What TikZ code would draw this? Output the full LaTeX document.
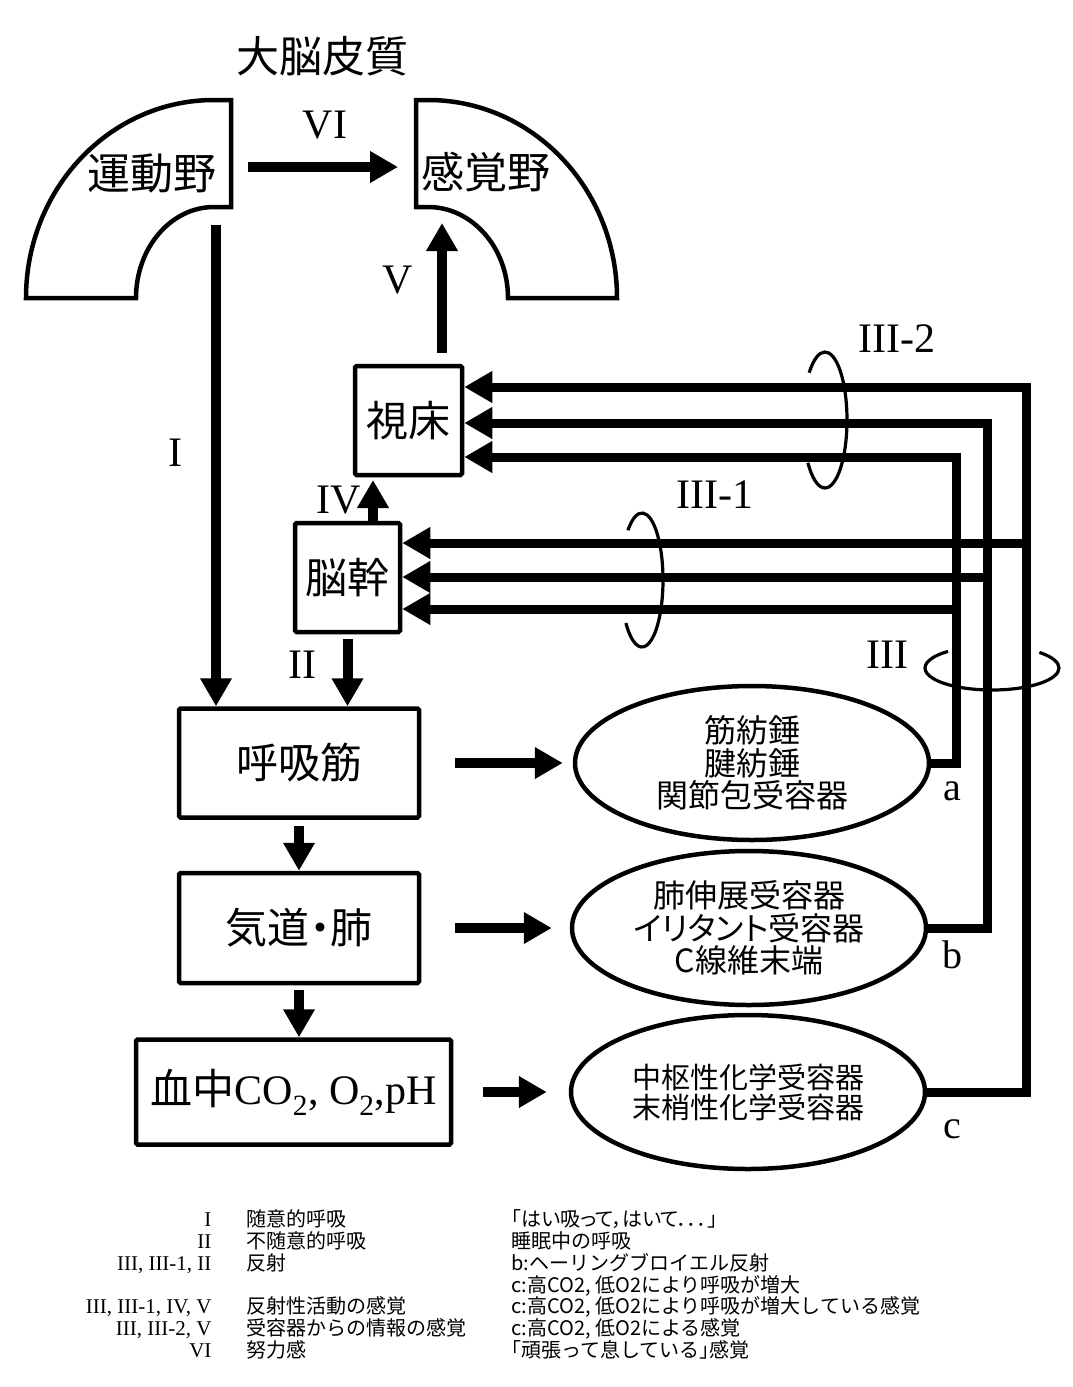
\documentclass[tikz,border=0pt]{standalone}
\usepackage{fontspec}
\setmainfont{Liberation Serif}
\newfontfamily\jp{Noto Sans CJK JP}
\usetikzlibrary{arrows.meta,shapes.geometric}

\begin{document}
\begin{tikzpicture}[x=1pt,y=-1pt,>={Triangle[length=28pt,width=30pt]},
	area/.style={draw,line width=4.5pt,line join=miter},
	box/.style={draw,line width=4.5pt,rounded corners=1.5pt,inner sep=0pt,minimum height=109pt,font=\jp\fontsize{42}{42}\selectfont},
	recep/.style={draw,ellipse,line width=4.5pt,inner sep=0pt,minimum width=354pt,minimum height=154pt,align=center},
	arr/.style={->,line width=10pt},
	fibre/.style={->,line width=9pt,line join=miter},
	ring/.style={line width=3.2pt},
	num/.style={anchor=base,font=\fontsize{42}{42}\selectfont},
	legn/.style={anchor=base east,font=\fontsize{21}{21}\selectfont},
	leg/.style={anchor=base west,font=\jp\fontsize{20}{20}\selectfont}]
	% fundo
	\fill[white] (0,0) rectangle (1073,1387);
	% cortex
	\node[font=\jp\fontsize{43}{43}\selectfont] (title) at (322,56) {大脳皮質};
	\draw[area] (231,100) -- (214,100) arc[start angle=270,end angle=180,x radius=188,y radius=198]
		-- (136,298) arc[start angle=180,end angle=270,x radius=78,y radius=91] -- (231,207) -- cycle;
	\draw[area] (416,100) -- (428,100) arc[start angle=270,end angle=360,x radius=189,y radius=198]
		-- (508,298) arc[start angle=0,end angle=-90,x radius=80,y radius=91] -- (416,207) -- cycle;
	\node[font=\jp\fontsize{43}{43}\selectfont] (motor) at (152,173) {運動野};
	\node[font=\jp\fontsize{43}{43}\selectfont] (sensory) at (486,172) {感覚野};
	\coordinate (m1) at (248,167);
	\coordinate (s1) at (398,167);
	\coordinate (m2) at (216,225);
	\coordinate (s2) at (442,223);
	\coordinate (s3) at (442,353);
	\coordinate (c4) at (373,480);
	% caixas
	\node[box,minimum width=107pt] (thal) at (408.5,420.5) {視床};
	\node[box,minimum width=105pt] (stem) at (347.5,577.5) {脳幹};
	\node[box,minimum width=240pt] (rm) at (299,763) {呼吸筋};
	\node[box,minimum width=240pt,minimum height=110pt] (lung) at (299,928) {気道{\addfontfeature{RawFeature=+palt}・}肺};
	\node[box,minimum width=315pt,minimum height=105pt] (blood) at (293.5,1092) {血中{\rmfamily CO\textsubscript{2}, O\textsubscript{2},pH}};
	% receptores
	\node[recep,font=\jp\fontsize{32}{32.5}\selectfont] (ra) at (752,763) {筋紡錘\\腱紡錘\\関節包受容器};
	\node[recep,font=\jp\fontsize{32}{32.5}\selectfont] (rb) at (749,928) {肺伸展受容器\\{\addfontfeature{RawFeature=+palt}イリタント}受容器\\C線維末端};
	\node[recep,font=\jp\fontsize{29}{30}\selectfont] (rc) at (748,1092) {中枢性化学受容器\\末梢性化学受容器};
	\node[anchor=base,font=\fontsize{40}{40}\selectfont] (la) at (952,800) {a};
	\node[anchor=base,font=\fontsize{40}{40}\selectfont] (lb) at (952,968) {b};
	\node[anchor=base,font=\fontsize{40}{40}\selectfont] (lc) at (952,1138) {c};
	% setas
	\draw[arr] (m1) -- (s1);
	\draw[arr] (m2) -- (rm.north -| m2);
	\draw[arr] (s3) -- (s2);
	\draw[arr] (stem.north -| c4) -- (c4);
	\draw[arr] ([yshift=-5pt]stem.south) -- (rm.north -| stem.south);
	\draw[arr] ([yshift=-6pt]rm.south) -- (lung.north);
	\draw[arr] ([yshift=-5pt]lung.south) -- (blood.north -| lung.south);
	\draw[arr] ([xshift=34pt]rm.east) -- ([xshift=-10pt]ra.west);
	\draw[arr] ([xshift=34pt]lung.east) -- ([xshift=-18pt]rb.west);
	\draw[arr] ([xshift=30pt]blood.east) -- ([xshift=-22pt]rc.west);
	% rotulos
	\node[num] (n6) at (325,138) {VI};
	\node[num] (n5) at (398,293) {V};
	\node[num] (n4) at (339,513) {IV};
	\node[num] (n2) at (302,678) {II};
	\node[num] (n1) at (175,466) {I};
	\node[num] (n3) at (887,668) {III};
	\node[num] (n31) at (715,508) {III-1};
	\node[num] (n32) at (897,352) {III-2};
	% feixes
	\coordinate (ta) at (956,457);
	\coordinate (tb) at (987,423);
	\coordinate (tc) at (1026,387);
	\coordinate (ba) at (956,609);
	\coordinate (bb) at (987,577);
	\coordinate (bc) at (1026,543);
	\draw[fibre] (ra.east) -| (ta) -- (thal.east |- ta);
	\draw[fibre] (rb.east) -| (tb) -- (thal.east |- tb);
	\draw[fibre] (rc.east) -| (tc) -- (thal.east |- tc);
	\draw[fibre] (ba) -- (stem.east |- ba);
	\draw[fibre] (bb) -- (stem.east |- bb);
	\draw[fibre] (bc) -- (stem.east |- bc);
	% aneis
	\coordinate (r1) at (642,580);
	\coordinate (r2) at (825,420);
	\coordinate (r3) at (992,668);
	\draw[ring] ([shift={(228:21 and 67)}]r1) arc[start angle=228,end angle=500,x radius=21,y radius=67];
	\draw[ring] ([shift={(224:22 and 68)}]r2) arc[start angle=224,end angle=501,x radius=22,y radius=68];
	\draw[ring] ([shift={(315:67 and 22)}]r3) arc[start angle=315,end angle=589,x radius=67,y radius=22];
	% legenda
	\node[legn] (k1) at (215,1226) {I};
	\node[leg] (j1) at (243,1226) {随意的呼吸};
	\node[leg] (h1) at (508,1226) {\addfontfeature{RawFeature=+palt}「はい吸って，はいて．．．」};
	\node[legn] (k2) at (215,1248) {II};
	\node[leg] (j2) at (243,1248) {不随意的呼吸};
	\node[leg] (h2) at (508,1248) {睡眠中の呼吸};
	\node[legn] (k3) at (215,1270) {III, III-1, II};
	\node[leg] (j3) at (243,1270) {反射};
	\node[leg] (h3) at (508,1270) {b:ヘーリングブロイエル反射};
	\node[leg] (h4) at (508,1292) {c:高CO2, 低O2により呼吸が増大};
	\node[legn] (k5) at (215,1313) {III, III-1, IV, V};
	\node[leg] (j5) at (243,1313) {反射性活動の感覚};
	\node[leg] (h5) at (508,1313) {c:高CO2, 低O2により呼吸が増大している感覚};
	\node[legn] (k6) at (215,1335) {III, III-2, V};
	\node[leg] (j6) at (243,1335) {受容器からの情報の感覚};
	\node[leg] (h6) at (508,1335) {c:高CO2, 低O2による感覚};
	\node[legn] (k7) at (215,1357) {VI};
	\node[leg] (j7) at (243,1357) {努力感};
	\node[leg] (h7) at (508,1357) {{\addfontfeature{RawFeature=+palt}「}頑張って息している{\addfontfeature{RawFeature=+palt}」}感覚};
\end{tikzpicture}
\end{document}
